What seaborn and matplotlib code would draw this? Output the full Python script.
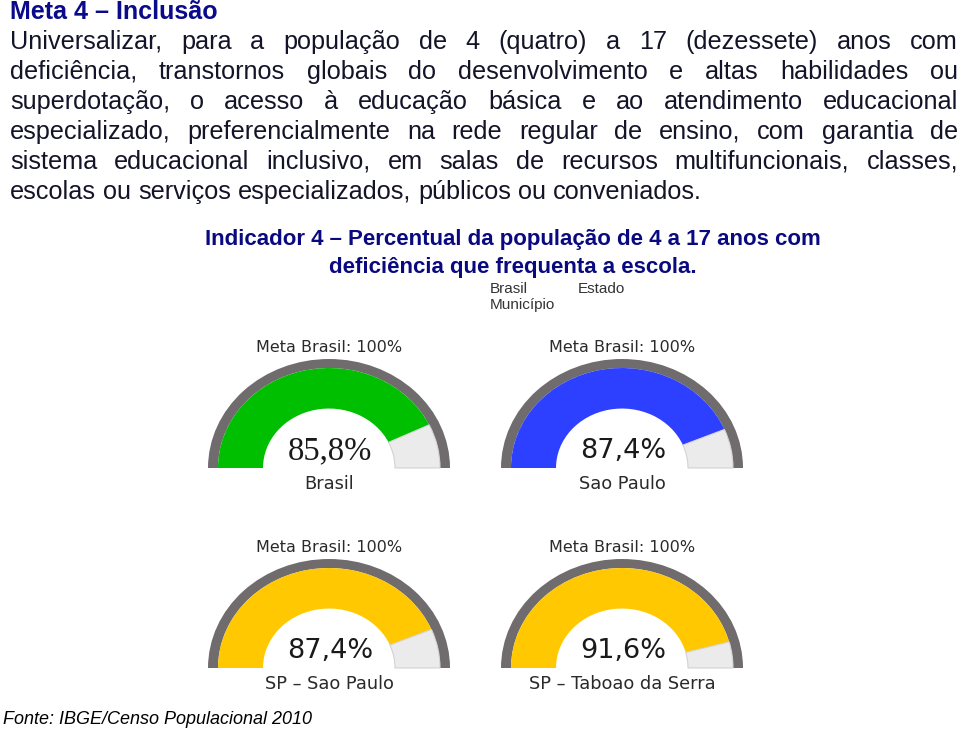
import matplotlib
matplotlib.use("Agg")
import matplotlib.pyplot as plt
import seaborn as sns

# ---------------- data ----------------
title = "Meta 4 – Inclusão"
body_lines = [
    "Universalizar, para a população de 4 (quatro) a 17 (dezessete) anos com",
    "deficiência, transtornos globais do desenvolvimento e altas habilidades ou",
    "superdotação, o acesso à educação básica e ao atendimento educacional",
    "especializado, preferencialmente na rede regular de ensino, com garantia de",
    "sistema educacional inclusivo, em salas de recursos multifuncionais, classes,",
    "escolas ou serviços especializados, públicos ou conveniados.",
]
indicator_lines = [
    "Indicador 4 – Percentual da população de 4 a 17 anos com",
    "deficiência que frequenta a escola.",
]
legend_labels = ["Brasil", "Estado", "Município"]
regions = ["Brasil", "Sao Paulo", "SP – Sao Paulo", "SP – Taboao da Serra"]
values = [85.8, 87.4, 87.4, 91.6]
meta_value = 100
meta_label = "Meta Brasil: 100%"
gauge_colors = ["#00BF00", "#2E40FF", "#FFC800", "#FFC800"]
source = "Fonte: IBGE/Censo Populacional 2010"

# ---------------- layout ----------------
W, H = 960, 732
sns.set_theme(style="white")
plt.rcParams["font.family"] = ["Liberation Sans", "DejaVu Sans"]

fig = plt.figure(figsize=(W / 100, H / 100), dpi=100)
fig.patch.set_facecolor("white")


def fx(x):
    return x / W


def fy(y):
    return 1 - y / H


# title
fig.text(fx(10), fy(12), title, fontsize=18.1, fontweight="bold",
         color="#0A0A8A", ha="left", va="center")

# justified body text
body_color = "#141428"
body_size = 18.2
renderer = fig.canvas.get_renderer()
x_left, x_right = 10, 958
for i, line in enumerate(body_lines):
    y = 42 + 30 * i
    words = line.split()
    texts = [fig.text(0, fy(y), w, fontsize=body_size, color=body_color,
                      ha="left", va="center") for w in words]
    widths = [t.get_window_extent(renderer).width for t in texts]
    last = i == len(body_lines) - 1
    if last or len(words) == 1:
        space = texts[0].get_fontsize() * 100 / 72 * 0.278
    else:
        space = (x_right - x_left - sum(widths)) / (len(words) - 1)
    x = x_left
    for t, w in zip(texts, widths):
        t.set_x(fx(x))
        x += w + space

# indicator title
for i, line in enumerate(indicator_lines):
    fig.text(fx(513), fy(240 + 27 * i), line, fontsize=16.05, fontweight="bold",
             color="#0A0A80", ha="center", va="center")

# legend-like labels
fig.text(fx(490), fy(289), legend_labels[0], fontsize=11, color="#333333",
         ha="left", va="center")
fig.text(fx(578), fy(289), legend_labels[1], fontsize=11, color="#333333",
         ha="left", va="center")
fig.text(fx(490), fy(305), legend_labels[2], fontsize=11, color="#333333",
         ha="left", va="center")

# gauges
centers_x = [329, 622, 329, 622]
baselines = [468, 468, 668, 668]
rx, ry = 121, 109
value_fonts = ["Liberation Serif", "DejaVu Sans", "DejaVu Sans", "DejaVu Sans"]
value_sizes = [23.5, 19.5, 19.5, 19.5]

for name, v, col, cx, by, vf, vs in zip(regions, values, gauge_colors,
                                        centers_x, baselines, value_fonts, value_sizes):
    ax = fig.add_axes([fx(cx - rx), (H - by) / H, 2 * rx / W, ry / H])
    # outer gray ring (upper half)
    ax.pie([1, 1], radius=1.0, startangle=0, counterclock=True,
           colors=["#706C6D", "none"],
           wedgeprops=dict(width=10 / rx, linewidth=0))
    # value arc + remainder
    wedges, _ = ax.pie([v, meta_value - v, meta_value], radius=111 / rx,
                       startangle=180, counterclock=False,
                       colors=[col, "#EBEBEB", "none"],
                       wedgeprops=dict(width=45 / rx, linewidth=0))
    wedges[1].set_edgecolor("#D3D3D3")
    wedges[1].set_linewidth(0.8)
    ax.set_xlim(-1, 1)
    ax.set_ylim(0, 1)
    ax.set_aspect("auto")
    ax.axis("off")

    fig.text(fx(cx), fy(by - 120), meta_label, fontsize=11.5, color="#2a2a2a",
             ha="center", va="center", family="DejaVu Sans")
    fig.text(fx(cx + 1), fy(by - 17), f"{v:.1f}".replace(".", ",") + "%",
             fontsize=vs, color="#1a1a1a", ha="center", va="center", family=vf)
    fig.text(fx(cx), fy(by + 16), name, fontsize=12.8, color="#2a2a2a",
             ha="center", va="center", family="DejaVu Sans")

# source
fig.text(fx(3), fy(719), source, fontsize=13, fontstyle="italic",
         color="#000000", ha="left", va="center")

fig.savefig("out.png", dpi=100, facecolor="white")
